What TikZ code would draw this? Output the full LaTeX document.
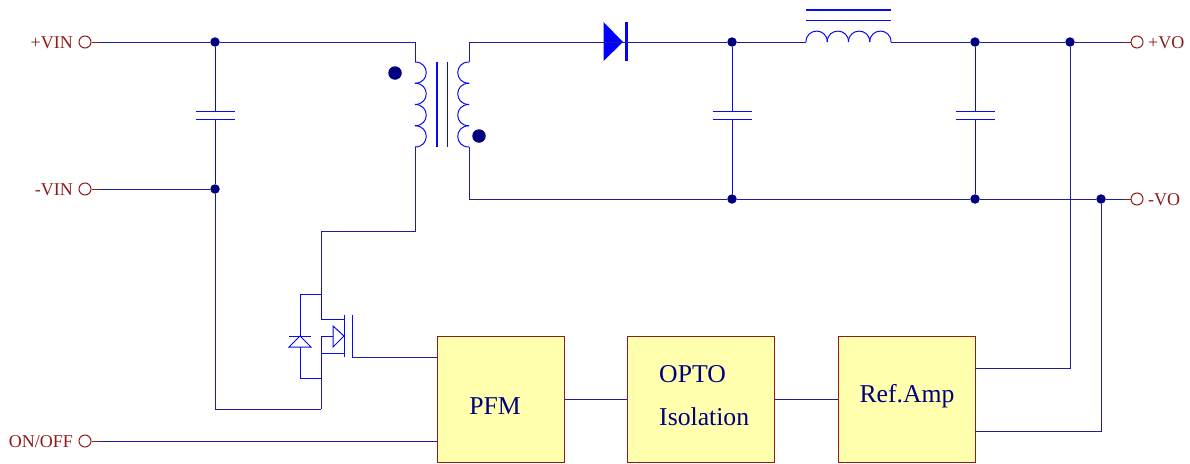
\documentclass[tikz,border=0pt]{standalone}
\usepackage{fontspec}
\setmainfont{Liberation Serif}
\usetikzlibrary{calc}
\definecolor{wirecol}{HTML}{1E1E9A}
\definecolor{partcol}{HTML}{0A0AF0}
\definecolor{dotcol}{HTML}{000080}
\definecolor{termcol}{HTML}{8E1C1C}
\definecolor{boxfill}{HTML}{FFFFAD}
\tikzstyle{wire}     = [draw=wirecol,line width=1pt]
\tikzstyle{part}     = [draw=partcol,line width=1pt]
\tikzstyle{stub}     = [draw=termcol,line width=1pt]
\tikzstyle{junc}     = [fill=dotcol,circle,inner sep=0pt,minimum size=9.5pt]
\tikzstyle{phase}    = [fill=dotcol,circle,inner sep=0pt,minimum size=13.5pt]
\tikzstyle{term}     = [draw=termcol,fill=white,circle,line width=1pt,inner sep=0pt,minimum size=12pt]
\tikzstyle{termtext} = [text=termcol,inner sep=0pt,font=\fontsize{18}{20}\selectfont]
\tikzstyle{block}    = [draw=termcol,fill=boxfill,line width=1pt,inner sep=0pt,minimum height=126pt]
\tikzstyle{blocktext}= [text=dotcol,inner sep=0pt,font=\fontsize{25.7}{28}\selectfont]
\begin{document}
\begin{tikzpicture}[x=1pt,y=-1pt]
  \useasboundingbox (0,0) rectangle (1190,463);

  %put the terminals on the left and right
  \foreach \n/\x/\y in {vinp/85/42,vinn/85/189,onoff/85/441,vop/1137/42,von/1137/199}{
    \node[term] (\n) at (\x,\y) {};
  }
  \node[termtext,anchor=east] (vinptext) at (73,43) {+VIN};
  \node[termtext,anchor=east] (vinntext) at (73,190) {-VIN};
  \node[termtext,anchor=east] (onofftext) at (73,442) {ON/OFF};
  \node[termtext,anchor=west] (voptext) at (1148,43) {+VO};
  \node[termtext,anchor=west] (vontext) at (1148,200) {-VO};

  %put the junctions on the rails
  \foreach \n/\x/\y in {ja/215/42,jb/215/189,jc/732/42,jd/975/42,je/1070/42,jf/732/199,jg/975/199,jh/1101/199}{
    \node[junc] (\n) at (\x,\y) {};
  }

  %blocks
  \node[block,minimum width=127pt] (pfm) at (500.5,399) {};
  \node[block,minimum width=147pt] (opto) at (700.5,399) {};
  \node[block,minimum width=137pt] (refamp) at (906.5,399) {};
  \node[blocktext] (pfmtext) at (495,406) {PFM};
  \node[blocktext,anchor=west] (optotext) at (659,374) {OPTO};
  \node[blocktext,anchor=west] (isotext) at (659,417) {Isolation};
  \node[blocktext] (reftext) at (907,396) {Ref.Amp};

  %transformer
  \foreach \y in {62,83.25,104.5,125.75}{
    \draw[part] (415,\y) .. controls (430,\y) and (430,\y+21.25) .. (415,\y+21.25);
    \draw[part] (469,\y) .. controls (454,\y) and (454,\y+21.25) .. (469,\y+21.25);
  }
  \draw[part,line width=1.5pt] (437,62) -- (437,147);
  \draw[part] (447,62) -- (447,147);
  \node[phase] (dotp) at (395,73) {};
  \node[phase] (dots) at (479,136) {};
  \coordinate (pt) at (415,62);
  \coordinate (pb) at (415,147);
  \coordinate (st) at (469,62);
  \coordinate (sb) at (469,147);

  %output diode
  \fill[blue] (603.5,22) -- (623,42) -- (603.5,61) -- cycle;
  \draw[blue,line width=3pt] (626,22) -- (626,61);

  %output choke
  \foreach \x in {806,827.25,848.5,869.75}{
    \draw[part] (\x,42) .. controls (\x,27.5) and (\x+21.25,27.5) .. (\x+21.25,42);
  }
  \draw[part,line width=1.5pt] (806,10) -- (891,10);
  \draw[part] (806,20) -- (891,20);
  \coordinate (cl) at (806,42);
  \coordinate (cr) at (891,42);

  %capacitors
  \foreach \n/\x in {a/215,b/732,c/975}{
    \coordinate (cap\n t) at (\x,111);
    \coordinate (cap\n b) at (\x,119);
    \draw[part] ($(cap\n t)+(-19.5,0)$) -- ($(cap\n t)+(19.5,0)$);
    \draw[part] ($(cap\n b)+(-19.5,0)$) -- ($(cap\n b)+(19.5,0)$);
  }

  %mosfet with body diode
  \coordinate (drain) at (321,319);
  \coordinate (tap) at (321,336);
  \coordinate (source) at (321,353);
  \coordinate (dtop) at (321,294);
  \coordinate (dbot) at (321,378);
  \coordinate (rail) at (321,409);
  \coordinate (gate) at (352,357);
  \draw[part] (344,315) -- (344,357);
  \draw[part] (352,315) -- (gate);
  \draw[part] (drain) -- (344,319);
  \draw[part] (source) -- (344,353);
  \draw[part] (tap) -- (333,336);
  \draw[part] (333,326) -- (344,336) -- (333,347) -- cycle;
  \draw[part] (tap) -- (dbot);
  \draw[part] (dtop) -- (drain);
  \draw[part] (dtop) -| (300,336);
  \draw[part] (dbot) -| (300,347);
  \draw[part] (289,336) -- (311,336);
  \draw[part] (289,347) -- (311,347) -- (300,336) -- cycle;

  %input side
  \draw[stub] (vinp) -- (99,42) coordinate (sa);
  \draw[stub] (vinn) -- (99,189) coordinate (sb1);
  \draw[stub] (onoff) -- (99,441) coordinate (sc);
  \draw[wire] (sa) -- (ja);
  \draw[wire] (sb1) -- (jb);
  \draw[wire] (sc) -- (sc -| pfm.west);
  \draw[wire] (ja) -| (pt);
  \draw[part] (ja) -- (capat);
  \draw[part] (capab) -- (jb);
  \draw[wire] (jb) |- (rail);
  \draw[wire] (rail) -- (dbot);
  \draw[wire] (pb) |- (321,231) -- (dtop);
  \draw[wire] (gate) -- (gate -| pfm.west);

  %output side
  \draw[wire] (st) |- (jc);
  \draw[wire] (sb) |- (jf);
  \draw[wire] (jc) -- (cl);
  \draw[wire] (cr) -- (jd);
  \draw[wire] (jd) -- (je);
  \draw[wire] (jf) -- (jg);
  \draw[wire] (jg) -- (jh);
  \draw[wire] (je) -- (1123,42) coordinate (sd);
  \draw[wire] (jh) -- (1123,199) coordinate (se);
  \draw[stub] (sd) -- (vop);
  \draw[stub] (se) -- (von);
  \foreach \n/\a/\b in {b/jc/jf,c/jd/jg}{
    \draw[part] (\a) -- (cap\n t);
    \draw[part] (cap\n b) -- (\b);
  }

  %feedback path
  \draw[wire] (pfm.east) -- (opto.west);
  \draw[wire] (opto.east) -- (refamp.west);
  \draw[wire] (975,368) -| (je);
  \draw[wire] (975,431) -| (jh);
\end{tikzpicture}
\end{document}
